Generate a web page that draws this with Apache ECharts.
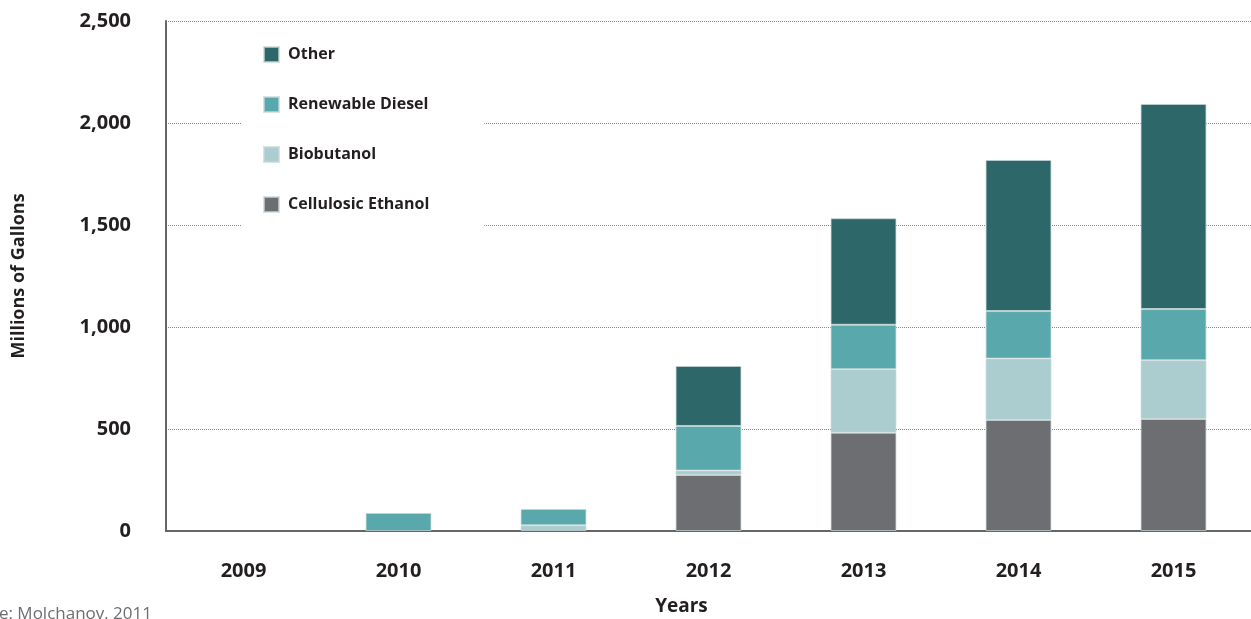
<!DOCTYPE html>
<html>
<head>
<meta charset="utf-8">
<style>html,body{margin:0;padding:0;background:#fff;}#chart{width:1251px;height:619px;}</style>
<script src="https://cdn.jsdelivr.net/npm/echarts@6/dist/echarts.min.js"></script>
</head>
<body>
<div id="chart"></div>
<script>
const years = ['2009','2010','2011','2012','2013','2014','2015'];
const cellulosicEthanol = [0, 0, 0, 275, 482, 544, 549];
const biobutanol = [0, 0, 28, 21, 311, 301, 288];
const renewableDiesel = [0, 88, 80, 219, 218, 233, 251];
const other = [0, 0, 0, 294, 522, 741, 1005];
const legendOrder = ['Other', 'Renewable Diesel', 'Biobutanol', 'Cellulosic Ethanol'];
const yTicks = [0, 500, 1000, 1500, 2000, 2500];

const font = '"Open Sans", "Noto Sans", sans-serif';
const chart = echarts.init(document.getElementById('chart'));
function mk(name, data, color) {
  return {
    name, type: 'bar', stack: 'total',
    data: data.map(v => v === 0 ? null : v),
    barWidth: '42.5%',
    itemStyle: { color, borderColor: 'rgba(200,215,215,0.7)', borderWidth: 1 },
    emphasis: { disabled: true }
  };
}
chart.setOption({
  animation: false,
  grid: { left: 166, right: 0, top: 21, bottom: 88, containLabel: false, outerBoundsMode: 'none' },
  legend: {
    data: legendOrder,
    orient: 'vertical',
    left: 241, top: 32,
    backgroundColor: '#ffffff',
    padding: [14, 55, 14, 22],
    itemWidth: 15, itemHeight: 15, itemGap: 33,
    icon: 'rect',
    textStyle: { fontFamily: font, fontWeight: 'bold', fontSize: 16, color: '#231f20', lineHeight: 15, padding: [0, 0, 0, 4] }
  },
  xAxis: {
    type: 'category', data: years,
    name: 'Years', nameLocation: 'middle', nameGap: 66,
    nameTextStyle: { fontFamily: font, fontWeight: 'bold', fontSize: 19, color: '#231f20', padding: [0, 54, 0, 0] },
    axisLine: { lineStyle: { color: '#666', width: 2 } },
    axisTick: { length: 10, lineStyle: { color: '#666', width: 2 } },
    axisLabel: { fontFamily: font, fontWeight: 'bold', fontSize: 20, color: '#231f20', margin: 30 }
  },
  yAxis: {
    type: 'value', min: 0, max: 2500, interval: 500,
    name: 'Millions of Gallons', nameLocation: 'middle', nameGap: 138, nameRotate: 90,
    nameTextStyle: { fontFamily: font, fontWeight: 'bold', fontSize: 18, color: '#231f20' },
    axisLine: { show: true, lineStyle: { color: '#666', width: 2 } },
    axisTick: { show: false },
    splitLine: { lineStyle: { color: '#888', type: 'dotted', width: 1 } },
    axisLabel: {
      fontFamily: font, fontWeight: 'bold', fontSize: 20, color: '#231f20', margin: 35,
      formatter: v => yTicks.includes(v) ? v.toLocaleString('en-US') : ''
    }
  },
  graphic: [{
    type: 'text', right: 1099, top: 606,
    style: { text: 'Source: Molchanov, 2011', fontFamily: font, fontSize: 17, fill: '#6d6e71' }
  }],
  series: [
    mk('Cellulosic Ethanol', cellulosicEthanol, '#6d6e72'),
    mk('Biobutanol', biobutanol, '#abcdd0'),
    mk('Renewable Diesel', renewableDiesel, '#59a8ab'),
    mk('Other', other, '#2d6769')
  ]
});
</script>
</body>
</html>
